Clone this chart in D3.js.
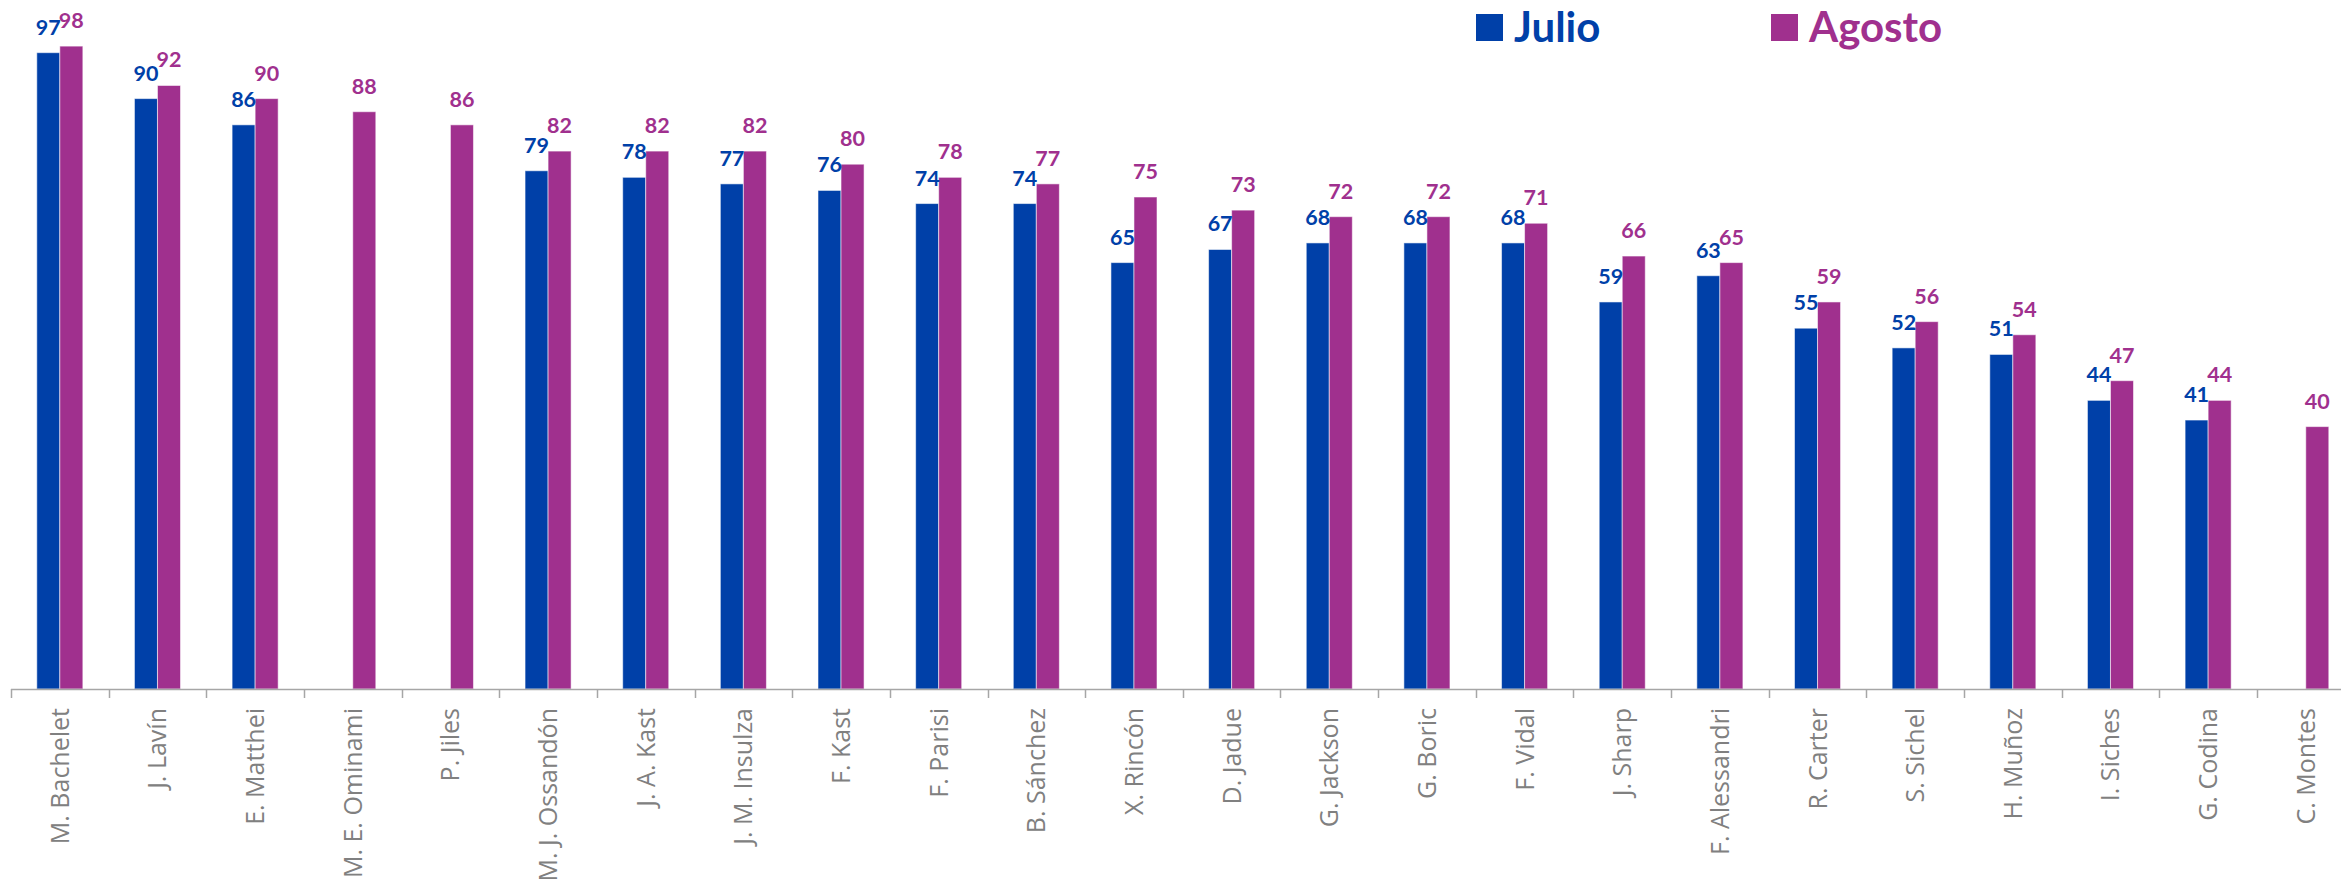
<!DOCTYPE html>
<html>
<head>
<meta charset="utf-8">
<script src="https://cdn.jsdelivr.net/npm/d3@7"></script>
<style>
  body {margin: 0; background: #fff;}
  svg {display: block;}
</style>
</head>
<body>
<div class='container'></div>
<script>

var candidates = ['M. Bachelet', 'J. Lavín', 'E. Matthei', 'M. E. Ominami', 'P. Jiles',
  'M. J. Ossandón', 'J. A. Kast', 'J. M. Insulza', 'F. Kast', 'F. Parisi', 'B. Sánchez',
  'X. Rincón', 'D. Jadue', 'G. Jackson', 'G. Boric', 'F. Vidal', 'J. Sharp', 'F. Alessandri',
  'R. Carter', 'S. Sichel', 'H. Muñoz', 'I. Siches', 'G. Codina', 'C. Montes']

var julio  = [97, 90, 86, null, null, 79, 78, 77, 76, 74, 74, 65, 67, 68, 68, 68, 59, 63, 55, 52, 51, 44, 41, null]
var agosto = [98, 92, 90, 88, 86, 82, 82, 82, 80, 78, 77, 75, 73, 72, 72, 71, 66, 65, 59, 56, 54, 47, 44, 40]

var seriesNames = ['Julio', 'Agosto']
var colors = {Julio: '#0040a8', Agosto: '#a0308e'}

var rows = candidates.map((name, i) => ({name, Julio: julio[i], Agosto: agosto[i]}))

var width = 2341
var height = 889
var baseY = 689

var svg = d3.select('.container').append('svg')
  .attr('width', width)
  .attr('height', height)

var x = d3.scaleBand()
  .domain(candidates)
  .range([11, 11 + candidates.length*97.65])
  .padding(0)

var x1 = d3.scaleBand()
  .domain(seriesNames)
  .range([0, x.bandwidth()])
  .paddingInner(0)
  .paddingOuter(1.12)

var y = d3.scaleLinear()
  .domain([0, 100])
  .range([baseY, 33])

// bars
var groupSel = svg.append('g').selectAll('g')
  .data(rows)
  .join('g')
  .attr('transform', d => `translate(${x(d.name)},0)`)

var barData = d => seriesNames
  .filter(s => d[s] != null)
  .map(s => ({series: s, value: d[s]}))

groupSel.selectAll('rect')
  .data(barData)
  .join('rect')
  .attr('x', d => x1(d.series))
  .attr('width', x1.bandwidth())
  .attr('y', d => y(d.value))
  .attr('height', d => baseY - y(d.value))
  .attr('fill', d => colors[d.series])
  .attr('stroke', 'rgba(255,255,255,.55)')
  .attr('stroke-width', 1)

groupSel.selectAll('text')
  .data(barData)
  .join('text')
  .attr('x', d => x1(d.series) + x1.bandwidth()/2)
  .attr('y', d => y(d.value) - 18)
  .attr('text-anchor', 'middle')
  .attr('fill', d => colors[d.series])
  .style('font-family', 'Lato, "Open Sans", sans-serif')
  .style('font-weight', 700)
  .style('font-size', '21.5px')
  .text(d => d.value)

// x axis: line, boundary ticks, rotated labels
var axisSel = svg.append('g')

axisSel.append('line')
  .attr('x1', x.range()[0]).attr('x2', width)
  .attr('y1', baseY + .5).attr('y2', baseY + .5)
  .attr('stroke', '#a6a6a6')
  .attr('stroke-width', 1.5)

axisSel.selectAll('line.tick')
  .data(candidates)
  .join('line')
  .attr('class', 'tick')
  .attr('x1', d => Math.round(x(d)) + .5)
  .attr('x2', d => Math.round(x(d)) + .5)
  .attr('y1', baseY)
  .attr('y2', baseY + 9)
  .attr('stroke', '#a6a6a6')
  .attr('stroke-width', 1.5)

axisSel.selectAll('text')
  .data(candidates)
  .join('text')
  .attr('transform', d => `translate(${x(d) + x.bandwidth()/2},${baseY + 19}) rotate(-90)`)
  .attr('text-anchor', 'end')
  .attr('dy', '0.36em')
  .attr('fill', '#808080')
  .style('font-family', '"Open Sans", sans-serif')
  .style('font-size', '25px')
  .text(d => d)

// legend
var legendX = {Julio: 1476, Agosto: 1771}

var legendSel = svg.append('g').selectAll('g')
  .data(seriesNames)
  .join('g')
  .attr('transform', d => `translate(${legendX[d]},14)`)

legendSel.append('rect')
  .attr('width', 27)
  .attr('height', 27)
  .attr('fill', d => colors[d])

legendSel.append('text')
  .attr('x', 38)
  .attr('y', 27.5)
  .attr('fill', d => colors[d])
  .style('font-family', 'Lato, sans-serif')
  .style('font-weight', 700)
  .style('font-size', '42px')
  .text(d => d)

</script>
</body>
</html>
